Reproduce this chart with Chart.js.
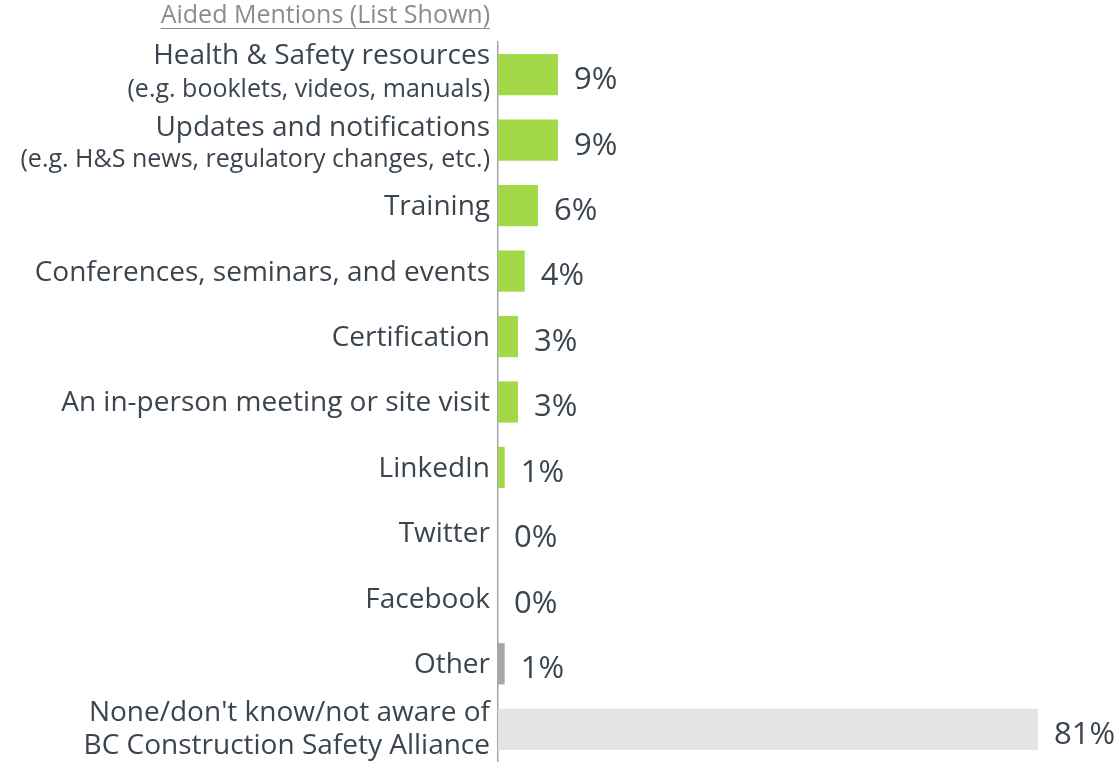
<!DOCTYPE html>
<html>
<head>
<meta charset="utf-8">
<script src="https://cdn.jsdelivr.net/npm/chart.js@4"></script>
<style>
  body { margin: 0; background: #fff; }
  #wrap { width: 1117px; height: 762px; }
</style>
</head>
<body>
<div id="wrap"><canvas id="awareChart"></canvas></div>
<script>
// datos
const categories = [
    ['Health & Safety resources', '(e.g. booklets, videos, manuals)'],
    ['Updates and notifications', '(e.g. H&S news, regulatory changes, etc.)'],
    ['Training'],
    ['Conferences, seminars, and events'],
    ['Certification'],
    ['An in-person meeting or site visit'],
    ['LinkedIn'],
    ['Twitter'],
    ['Facebook'],
    ['Other'],
    ['None/don\'t know/not aware of', 'BC Construction Safety Alliance']
];
const values = [9, 9, 6, 4, 3, 3, 1, 0, 0, 1, 81];
const barColors = ['#a3d948', '#a3d948', '#a3d948', '#a3d948', '#a3d948', '#a3d948', '#a3d948',
    '#a3d948', '#a3d948', '#a6a6a6', '#e4e4e4'];
const chartTitle = 'Aided Mentions (List Shown)';

const textColor = '#3b4550';
const fontFam = '"Open Sans", sans-serif';

// dibuja etiquetas del eje, valores y titulo
const labelPlugin = {
    id: 'labelPlugin',
    afterDraw(chart) {
        const ctx = chart.ctx;
        const y = chart.scales.y;
        const x = chart.scales.x;
        const right = chart.chartArea.left - 8;
        ctx.save();
        ctx.fillStyle = textColor;
        ctx.textAlign = 'right';
        ctx.textBaseline = 'middle';
        categories.forEach((lines, i) => {
            const cy = y.getPixelForValue(i);
            if (lines.length === 1) {
                ctx.font = '28px ' + fontFam;
                ctx.fillText(lines[0], right, cy + 1.5);
            } else if (i === categories.length - 1) {
                ctx.font = '28px ' + fontFam;
                ctx.fillText(lines[0], right, cy - 16);
                ctx.fillText(lines[1], right, cy + 17);
            } else {
                const off = i === 0 ? [-19, 15] : [-12, 20];
                ctx.font = '28px ' + fontFam;
                ctx.fillText(lines[0], right, cy + off[0]);
                ctx.font = '25px ' + fontFam;
                ctx.fillText(lines[1], right, cy + off[1]);
            }
        });

        // valores
        ctx.textAlign = 'left';
        ctx.font = '31px ' + fontFam;
        values.forEach((v, i) => {
            ctx.fillText(v + '%', x.getPixelForValue(v) + 16, y.getPixelForValue(i) + 5.5);
        });

        // titulo subrayado
        ctx.fillStyle = '#8c8c8c';
        ctx.strokeStyle = '#8c8c8c';
        ctx.font = '25px ' + fontFam;
        ctx.textAlign = 'right';
        ctx.fillText(chartTitle, right, 16);
        const w = ctx.measureText(chartTitle).width;
        ctx.lineWidth = 1;
        ctx.beginPath();
        ctx.moveTo(right - w, 28.5);
        ctx.lineTo(right, 28.5);
        ctx.stroke();
        ctx.restore();
    }
};

const ctx = document.getElementById('awareChart').getContext('2d');
new Chart(ctx, {
    type: 'bar',
    data: {
        labels: categories.map(c => c.join(' ')),
        datasets: [{
            data: values,
            backgroundColor: barColors,
            borderWidth: 0,
            barPercentage: 0.63,
            categoryPercentage: 1
        }]
    },
    options: {
        indexAxis: 'y',
        responsive: true,
        maintainAspectRatio: false,
        animation: false,
        layout: {
            padding: { left: 498, right: 19, top: 42, bottom: 0 }
        },
        plugins: {
            legend: { display: false },
            tooltip: { enabled: false }
        },
        scales: {
            x: {
                display: false,
                min: 0,
                max: 90
            },
            y: {
                ticks: { display: false },
                grid: { display: false },
                border: { display: true, color: '#a6a6a6', width: 1.5 },
                afterFit(scale) { scale.width = 0; }
            }
        }
    },
    plugins: [labelPlugin]
});
</script>
</body>
</html>
